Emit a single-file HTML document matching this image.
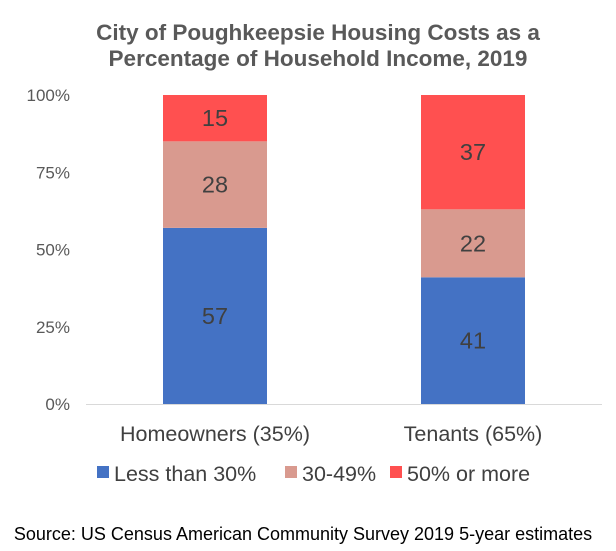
<!DOCTYPE html>
<html><head><meta charset="utf-8"><style>
body{margin:0;background:#fff;font-family:"Liberation Sans",Arial,sans-serif}
svg{display:block}
</style></head><body>
<svg id="chart" width="616" height="551">
<text x="318" y="40" text-anchor="middle" font-size="22.5" font-weight="bold" fill="#595959">City of Poughkeepsie Housing Costs as a</text>
<text x="318" y="66" text-anchor="middle" font-size="22.5" font-weight="bold" fill="#595959">Percentage of Household Income, 2019</text>
<g id="yaxis"></g>
<g id="bars"></g>
<g id="xaxis"></g>
<g>
<g><rect x="97" y="466" width="12" height="12" fill="#4472C4"/><text x="114" y="481" font-size="21.5" fill="#404040">Less than 30%</text></g>
<g><rect x="285" y="466" width="12" height="12" fill="#D99A8F"/><text x="302" y="481" font-size="21.5" fill="#404040">30-49%</text></g>
<g><rect x="390" y="466" width="12" height="12" fill="#FF5050"/><text x="407" y="481" font-size="21.5" fill="#404040">50% or more</text></g>
</g>
<text x="303" y="540" text-anchor="middle" font-size="18" fill="#000">Source: US Census American Community Survey 2019 5-year estimates</text>
</svg>
<script>
const categories=["Homeowners (35%)","Tenants (65%)"];
const lessThan30=[57,41];
const from30to49=[28,22];
const fiftyOrMore=[15,37];
const yTicks=[0,25,50,75,100];
const seriesNames=["less-than-30","30-49","50-or-more"];
const ns="http://www.w3.org/2000/svg";
const y0=404,y1=95,xL=86,xR=602;
const yS=v=>y0-(v/100)*(y0-y1);
const bw=(xR-xL)/categories.length;
const xC=i=>xL+bw*(i+0.5);
function mk(t,a,p){const e=document.createElementNS(ns,t);for(const k in a)e.setAttribute(k,a[k]);p.appendChild(e);return e;}
const ya=document.getElementById('yaxis');
yTicks.forEach(t=>{const e=mk('text',{x:70,y:yS(t)+6,'text-anchor':'end','font-size':17,fill:'#595959'},ya);e.textContent=t+'%';

});
const xa=document.getElementById('xaxis');
const ln=mk('line',{x1:xL,x2:xR,y1:y0+0.5,y2:y0+0.5,stroke:'#d9d9d9','stroke-width':1},xa);


categories.forEach((c,i)=>{const e=mk('text',{x:xC(i),y:441,'text-anchor':'middle','font-size':21.5,fill:'#404040'},xa);e.textContent=c;

});
const bars=document.getElementById('bars');
const series=[lessThan30,from30to49,fiftyOrMore];
const colors=["#4472C4","#D99A8F","#FF5050"];
categories.forEach((c,i)=>{let base=0;const w=104;
series.forEach((s,j)=>{const v=s[i];const top=yS(base+v),bot=yS(base);
const r=mk('rect',{x:xC(i)-w/2,y:top,width:w,height:bot-top,fill:colors[j]},bars);


const t=mk('text',{x:xC(i),y:(top+bot)/2+8,'text-anchor':'middle','font-size':23.5,fill:'#404040'},bars);t.textContent=v;


base+=v;});});
</script>
</body></html>
